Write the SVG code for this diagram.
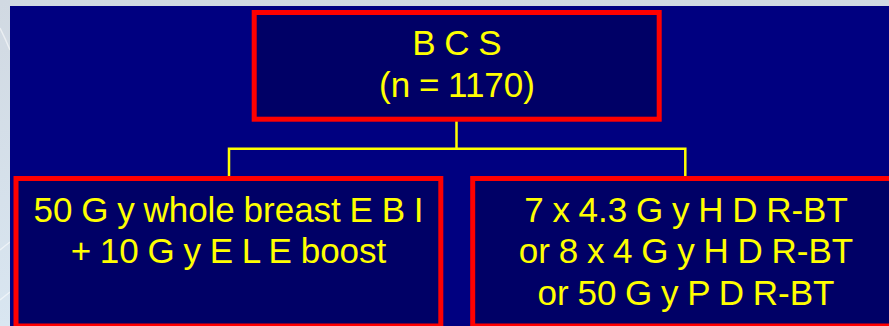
<svg xmlns="http://www.w3.org/2000/svg" width="889" height="326" viewBox="0 0 889 326">
  <defs>
    <linearGradient id="bg" x1="0" y1="0" x2="0" y2="1">
      <stop offset="0" stop-color="#d1d9e2"/>
      <stop offset="1" stop-color="#d9e6f1"/>
    </linearGradient>
    <style>
      .box { fill: #000066; stroke: #ff0000; stroke-width: 5; }
      .wire { fill: none; stroke: #ffff00; stroke-width: 2.5; }
      .lbl { font-family: "Liberation Sans", Arial, sans-serif; font-size: 35px; word-spacing: -1px; fill: #ffff00; text-anchor: middle; }
      .streak { fill: none; stroke: #ffffff; stroke-opacity: 0.55; stroke-width: 1.5; }
    </style>
  </defs>
  <rect x="0" y="0" width="889" height="326" fill="url(#bg)"/>
  <path class="streak" d="M0 28 Q6 40 10 50"/>
  <path class="streak" d="M0 250 Q6 245 10 242"/>
  <path class="streak" d="M0 300 Q5 296 10 292"/>
  <rect x="10" y="6" width="879" height="320" fill="#000080"/>

  <g id="connectors">
    <path class="wire" d="M456.5 119 V148.8"/>
    <path class="wire" d="M229 176 V148.8 H685.3 V176"/>
  </g>

  <g id="node-bcs">
    <rect class="box" x="254.2" y="12.5" width="405" height="106.7"/>
    <text class="lbl" x="457" y="55">B C S</text>
    <text class="lbl" x="457" y="97">(n = 1170)</text>
  </g>

  <g id="node-ebi">
    <rect class="box" x="16" y="178.5" width="424.8" height="147.5"/>
    <text class="lbl" x="228.5" y="221.5">50 G y whole breast E B I</text>
    <text class="lbl" x="228.5" y="263">+ 10 G y E L E boost</text>
  </g>

  <g id="node-bt">
    <rect class="box" x="472.7" y="178.5" width="430" height="147.5"/>
    <text class="lbl" x="686" y="222">7 x 4.3 G y H D R-BT</text>
    <text class="lbl" x="686" y="263">or 8 x 4 G y H D R-BT</text>
    <text class="lbl" x="686" y="305">or 50 G y P D R-BT</text>
  </g>
</svg>
